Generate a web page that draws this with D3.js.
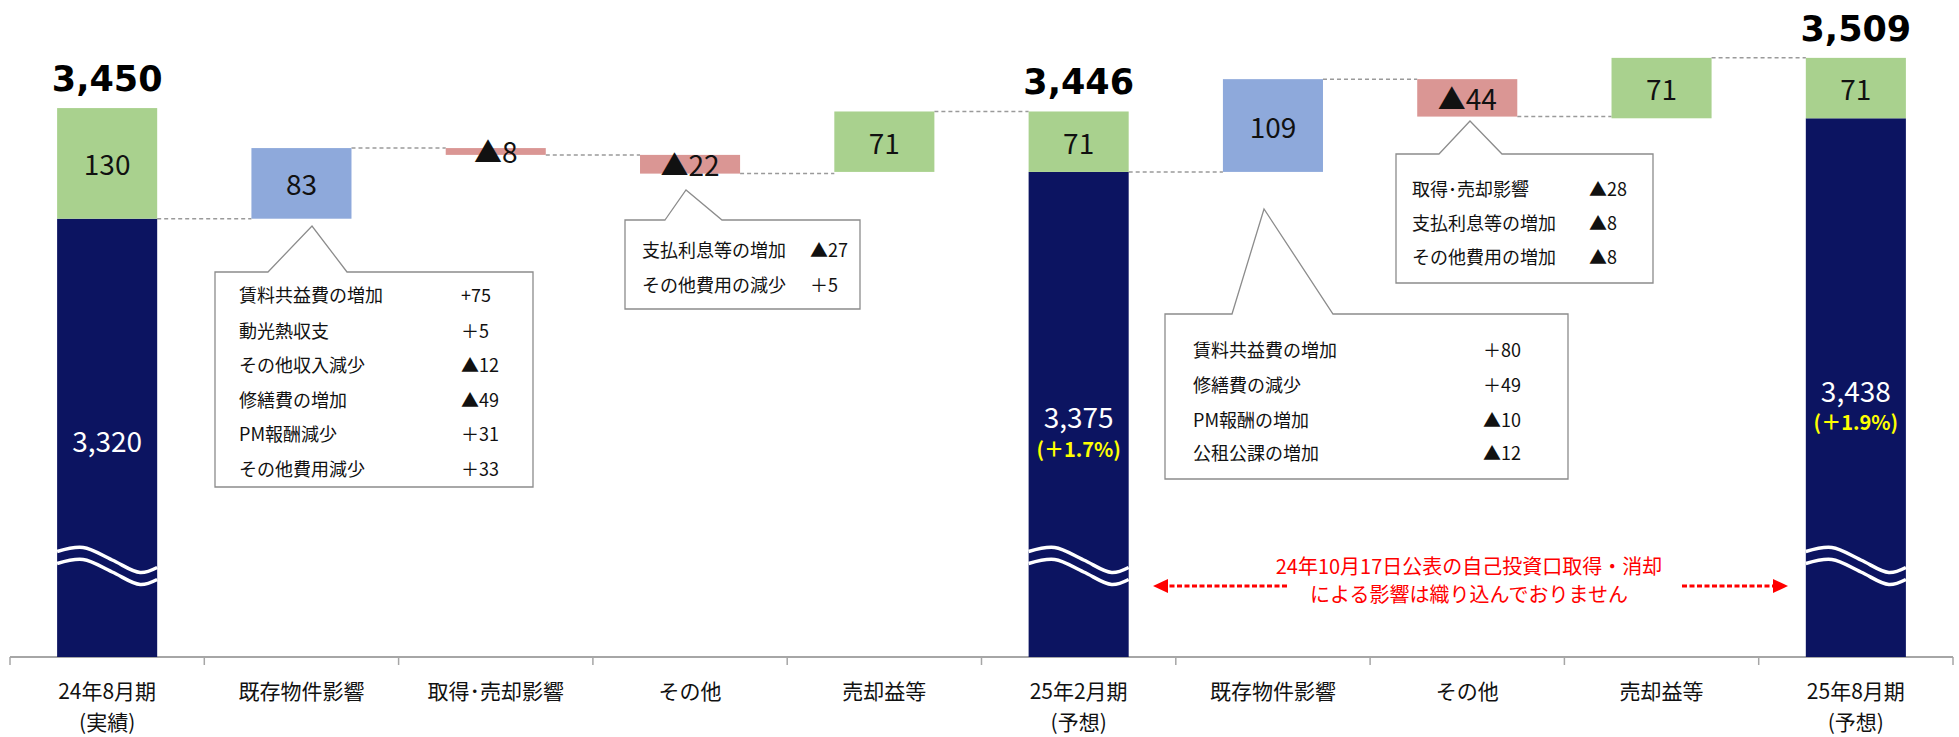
<!DOCTYPE html>
<html>
<head>
<meta charset="utf-8">
<script src="https://cdn.jsdelivr.net/npm/d3@7"></script>
<style>
  html, body { margin: 0; padding: 0; background: #ffffff; }
  svg { display: block; font-family: "Noto Sans CJK JP", "Noto Sans", sans-serif; }
</style>
</head>
<body>
<svg id="chart" width="1959" height="737"></svg>
<script>
// ---- data ----
const categories = [
  ["24年8月期", "(実績)"],
  ["既存物件影響"],
  ["取得･売却影響"],
  ["その他"],
  ["売却益等"],
  ["25年2月期", "(予想)"],
  ["既存物件影響"],
  ["その他"],
  ["売却益等"],
  ["25年8月期", "(予想)"]
];
// change per step (null = period total column)
const stepValues = [null, 83, -8, -22, 71, null, 109, -44, 71, null];
const stepLabels = [null, "83", "▲8", "▲22", "71", null, "109", "▲44", "71", null];

// period totals: operating part (navy) + gain on sale (green)
const baseValues = [3320, 3375, 3438];
const gainValues = [130, 71, 71];
const baseLabels = ["3,320", "3,375", "3,438"];
const gainLabels = ["130", "71", "71"];
const totalLabels = ["3,450", "3,446", "3,509"];
const growthLabels = [null, "(＋1.7%)", "(＋1.9%)"];

// breakdown notes
const note1 = [["賃料共益費の増加", "+75"], ["動光熱収支", "＋5"], ["その他収入減少", "▲12"],
               ["修繕費の増加", "▲49"], ["PM報酬減少", "＋31"], ["その他費用減少", "＋33"]];
const note2 = [["支払利息等の増加", "▲27"], ["その他費用の減少", "＋5"]];
const note3 = [["賃料共益費の増加", "＋80"], ["修繕費の減少", "＋49"], ["PM報酬の増加", "▲10"], ["公租公課の増加", "▲12"]];
const note4 = [["取得･売却影響", "▲28"], ["支払利息等の増加", "▲8"], ["その他費用の増加", "▲8"]];
const remarkLines = ["24年10月17日公表の自己投資口取得・消却", "による影響は織り込んでおりません"];

// ---- layout ----
const axisY = 657, left = 10, right = 1953;
const colors = { navy: "#0C1461", gain: "#A9D18E", up: "#8EA9DB", down: "#DA9694", guide: "#A6A6A6", red: "#FF0000", yellow: "#FFFF00" };

const svg = d3.select("#chart");
const x = d3.scaleBand().domain(d3.range(categories.length)).range([left, right]).padding(0);
const barW = x.bandwidth() * 0.515;
const bx = i => x(i) + (x.bandwidth() - barW) / 2;
const cx = i => x(i) + x.bandwidth() / 2;
// truncated value axis (lower part hidden behind the wave marks)
const y = d3.scaleLinear().domain([2805, 3577]).range([axisY, 0]);

// ---- build waterfall rows ----
const rows = [];
let level = null, p = 0;
stepValues.forEach((v, i) => {
  if (v === null) {
    rows.push({ i, kind: "total", p, base: baseValues[p], gain: gainValues[p], end: baseValues[p] });
    level = baseValues[p];
    p++;
  } else {
    // the gain-on-sale step sits on the next period's operating level
    const isGain = stepValues[i + 1] === null;
    const start = isGain ? baseValues[p] : level;
    const end = start + v;
    rows.push({ i, kind: isGain ? "gain" : (v >= 0 ? "up" : "down"), start, end, v });
    level = end;
  }
});

// ---- axis ----
const gAxis = svg.append("g");
gAxis.append("line").attr("x1", left).attr("x2", right).attr("y1", axisY).attr("y2", axisY)
  .attr("stroke", colors.guide).attr("stroke-width", 2);
gAxis.selectAll("line.tick").data(d3.range(categories.length + 1)).join("line")
  .attr("class", "tick")
  .attr("x1", k => left + k * x.step()).attr("x2", k => left + k * x.step())
  .attr("y1", axisY).attr("y2", axisY + 8)
  .attr("stroke", colors.guide).attr("stroke-width", 1.5);
const catText = gAxis.selectAll("text.cat").data(categories).join("text")
  .attr("class", "cat")
  .attr("x", (d, i) => cx(i)).attr("y", 699)
  .attr("text-anchor", "middle").attr("font-size", 21).attr("fill", "#111");
catText.selectAll("tspan").data(d => d).join("tspan")
  .attr("x", function () { return d3.select(this.parentNode).attr("x"); })
  .attr("dy", (d, k) => k === 0 ? 0 : 31)
  .text(d => d);

// ---- connectors ----
const levelAfter = r => r.kind === "total" ? r.base : r.end;
const conn = rows.slice(0, -1).map((r, k) => ({ from: r.i, to: rows[k + 1].i, v: levelAfter(r) }));
svg.append("g").selectAll("line").data(conn).join("line")
  .attr("x1", d => bx(d.from) + barW).attr("x2", d => bx(d.to))
  .attr("y1", d => y(d.v)).attr("y2", d => y(d.v))
  .attr("stroke", "#9A9A9A").attr("stroke-width", 1.5).attr("stroke-dasharray", "4,3");

// ---- bars ----
const gBars = svg.append("g");
const totals = rows.filter(r => r.kind === "total");
const steps = rows.filter(r => r.kind !== "total");

gBars.selectAll("rect.base").data(totals).join("rect")
  .attr("x", d => bx(d.i)).attr("width", barW)
  .attr("y", d => y(d.base)).attr("height", d => axisY - y(d.base))
  .attr("fill", colors.navy);
gBars.selectAll("rect.gainTop").data(totals).join("rect")
  .attr("x", d => bx(d.i)).attr("width", barW)
  .attr("y", d => y(d.base + d.gain)).attr("height", d => y(d.base) - y(d.base + d.gain))
  .attr("fill", colors.gain);
gBars.selectAll("rect.step").data(steps).join("rect")
  .attr("x", d => bx(d.i)).attr("width", barW)
  .attr("y", d => y(Math.max(d.start, d.end)))
  .attr("height", d => Math.abs(y(d.start) - y(d.end)))
  .attr("fill", d => colors[d.kind]);

// ---- wave break marks on the truncated columns ----
const waveShape = [[0, -8.5], [0.26, -12.5], [0.55, 0], [0.83, 12.5], [1, 7.5]];
const waveY = axisY - 97;
const wave = d3.line().curve(d3.curveCatmullRom);
totals.forEach(t => {
  [0, 12].forEach(off => {
    svg.append("path")
      .attr("d", wave(waveShape.map(([u, dy]) => [bx(t.i) + u * barW, waveY + dy + off])))
      .attr("fill", "none").attr("stroke", "#ffffff").attr("stroke-width", 3.5);
  });
});

// ---- labels ----
const gLab = svg.append("g");
gLab.selectAll("text.step").data(steps).join("text")
  .attr("x", d => cx(d.i)).attr("y", d => (y(d.start) + y(d.end)) / 2)
  .attr("dominant-baseline", "central").attr("text-anchor", "middle")
  .attr("font-size", 28).attr("fill", "#111")
  .text(d => stepLabels[d.i]);
gLab.selectAll("text.gainLab").data(totals).join("text")
  .attr("x", d => cx(d.i)).attr("y", d => (y(d.base) + y(d.base + d.gain)) / 2)
  .attr("dominant-baseline", "central").attr("text-anchor", "middle")
  .attr("font-size", 28).attr("fill", "#111")
  .text(d => gainLabels[d.p]);
gLab.selectAll("text.baseLab").data(totals).join("text")
  .attr("x", d => cx(d.i)).attr("y", d => (y(d.base) + axisY) / 2 + 2)
  .attr("dominant-baseline", "central").attr("text-anchor", "middle")
  .attr("font-size", 28).attr("fill", "#ffffff")
  .text(d => baseLabels[d.p]);
gLab.selectAll("text.growth").data(totals.filter(d => growthLabels[d.p])).join("text")
  .attr("x", d => cx(d.i)).attr("y", d => (y(d.base) + axisY) / 2 + 34)
  .attr("dominant-baseline", "central").attr("text-anchor", "middle")
  .attr("font-size", 20).attr("font-weight", "bold").attr("fill", colors.yellow)
  .text(d => growthLabels[d.p]);
gLab.selectAll("text.total").data(totals).join("text")
  .attr("x", d => cx(d.i)).attr("y", d => y(d.base + d.gain) - 17)
  .attr("text-anchor", "middle")
  .attr("font-family", "'DejaVu Sans', sans-serif")
  .attr("font-size", 35).attr("font-weight", "bold").attr("fill", "#000")
  .text(d => totalLabels[d.p]);

// ---- breakdown callouts ----
const callouts = [
  { rows: note1, box: [215, 272, 533, 487], apex: [312, 226], base: [268, 347], labelX: 239, valueX: 461, rowY: [294, 330, 364, 399, 433, 468] },
  { rows: note2, box: [625, 220, 860, 309], apex: [686, 190], base: [665, 722], labelX: 642, valueX: 810, rowY: [249, 284] },
  { rows: note3, box: [1165, 314, 1568, 479], apex: [1264, 209], base: [1232, 1333], labelX: 1193, valueX: 1483, rowY: [349, 384, 419, 452] },
  { rows: note4, box: [1396, 154, 1653, 283], apex: [1470, 121], base: [1439, 1502], labelX: 1412, valueX: 1589, rowY: [188, 222, 256] }
];
callouts.forEach(c => {
  const [x0, y0, x1, y1] = c.box;
  const path = d3.path();
  path.moveTo(c.base[0], y0);
  path.lineTo(c.apex[0], c.apex[1]);
  path.lineTo(c.base[1], y0);
  path.lineTo(x1, y0);
  path.lineTo(x1, y1);
  path.lineTo(x0, y1);
  path.lineTo(x0, y0);
  path.closePath();
  const g = svg.append("g");
  g.append("path").attr("d", path.toString())
    .attr("fill", "#ffffff").attr("stroke", "#8C8C8C").attr("stroke-width", 1.3);
  c.rows.forEach((r, k) => {
    g.append("text").attr("x", c.labelX).attr("y", c.rowY[k])
      .attr("dominant-baseline", "central").attr("font-size", 18).attr("fill", "#111").text(r[0]);
    g.append("text").attr("x", c.valueX).attr("y", c.rowY[k])
      .attr("dominant-baseline", "central").attr("font-size", 18).attr("fill", "#111").text(r[1]);
  });
});

// ---- remark with arrows ----
const gRem = svg.append("g");
gRem.selectAll("text").data(remarkLines).join("text")
  .attr("x", 1469).attr("y", (d, k) => 565 + k * 28)
  .attr("dominant-baseline", "central").attr("text-anchor", "middle")
  .attr("font-size", 20).attr("fill", colors.red)
  .text(d => d);
const arrowY = 586;
[[1287, 1153], [1682, 1788]].forEach(([from, tip]) => {
  const dir = Math.sign(tip - from);
  const baseX = tip - dir * 15;
  gRem.append("line").attr("x1", from).attr("x2", baseX).attr("y1", arrowY).attr("y2", arrowY)
    .attr("stroke", colors.red).attr("stroke-width", 3).attr("stroke-dasharray", "5,2.5");
  gRem.append("path")
    .attr("d", `M${tip},${arrowY}L${baseX},${arrowY - 7}L${baseX},${arrowY + 7}Z`)
    .attr("fill", colors.red);
});
</script>
</body>
</html>
